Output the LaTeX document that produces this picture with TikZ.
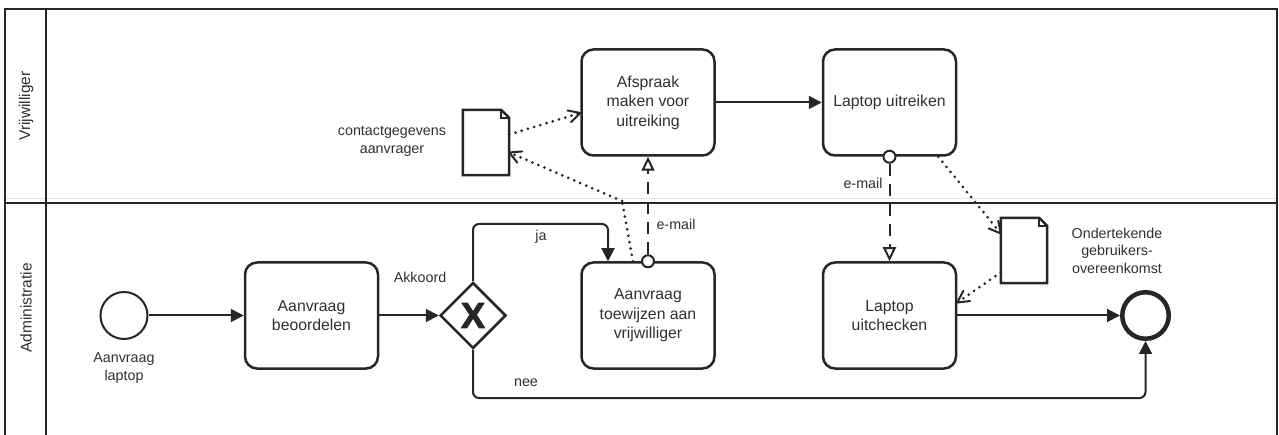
\documentclass[tikz,border=0pt]{standalone}
\usepackage{fontspec}
\setmainfont{Liberation Sans}
\newfontface\gwfont[FakeBold=2.5]{Liberation Sans Bold}
\usetikzlibrary{arrows.meta, shapes.geometric, calc}
\definecolor{ink}{HTML}{262626}
\definecolor{txt}{HTML}{303030}

\begin{document}
\begin{tikzpicture}[x=1pt, y=-1pt,
        lane/.style={draw=ink, line width=1.8pt},
        task/.style={draw=ink, line width=2.5pt, rounded corners=12pt, minimum width=133pt, minimum height=106pt, align=center, text=txt, font=\fontsize{15.8}{19.5}\selectfont},
        lbl/.style={align=center, text=txt, font=\fontsize{14.3}{17.5}\selectfont},
        gateway/.style={draw=ink, line width=2.5pt, diamond, aspect=1, minimum width=66pt, minimum height=66pt, inner sep=0pt, text=ink},
        msg/.style={draw=ink, line width=2pt, fill=white, circle, minimum size=12pt, inner sep=0pt},
        doc/.style={minimum width=46pt, minimum height=65pt, inner sep=0pt},
        docline/.style={draw=ink, line width=2.5pt, line join=miter},
        flow/.style={draw=ink, line width=2pt, -{Triangle[length=13pt, width=13pt]}},
        msgflow/.style={draw=ink, line width=2pt, dash pattern=on 12pt off 8pt, -{Triangle[open, length=14pt, width=13pt]}},
        assoc/.style={draw=ink, line width=3pt, line cap=round, dash pattern=on 0pt off 6.5pt},
        barb/.style={draw=ink, line width=2pt, line cap=round, line join=round}]
        \useasboundingbox (0,0) rectangle (1279,435);
        \draw[gray!20, line width=1pt] (5,199) -- (1277,199);
        \draw[lane] (5,435) -- (5,9) -- (1277,9) -- (1277,435);
        \draw[lane] (46,9) -- (46,435);
        \draw[lane] (5,203) -- (1277,203);
        \node[lbl, rotate=90, font=\fontsize{15.5}{18}\selectfont] (vrijw) at (26,106) {Vrijwilliger};
        \node[lbl, rotate=90, font=\fontsize{15.5}{18}\selectfont] (admin) at (26,308) {Administratie};

        \node[draw=ink, line width=2pt, circle, minimum size=47pt, inner sep=0pt] (start) at (124,315.5) {};
        \node[lbl] (startlbl) at (124,368) {Aanvraag\\laptop};
        \node[task] (beoord) at (311.5,315.5) {Aanvraag\\beoordelen};
        \node[gateway] (gw) at (473,315.5) {\fontsize{36}{36}\selectfont\gwfont X};
        \node[lbl] (akkoord) at (420,277) {Akkoord};
        \node[task] (toew) at (648,315.5) {Aanvraag\\toewijzen aan\\vrijwilliger};
        \node[task] (afspraak) at (648,102.5) {Afspraak\\maken voor\\uitreiking};
        \node[task] (uitreiken) at (889.5,102.5) {Laptop uitreiken};
        \node[task] (uitchecken) at (889.5,315.5) {Laptop\\uitchecken};
        \node[draw=ink, line width=4.5pt, circle, minimum size=46.5pt, inner sep=0pt] (end) at (1145.5,315.5) {};

        \node[doc] (doc1) at (486,142.5) {};
        \node[lbl] (doc1lbl) at (392,141.5) {contactgegevens\\aanvrager};
        \node[doc] (doc2) at (1024,250.5) {};
        \node[lbl] (doc2lbl) at (1117,250.5) {Ondertekende\\gebruikers-\\overeenkomst};
        \foreach \d in {doc1,doc2} {
            \draw[docline] (\d.south west) -- (\d.north west) -- ([xshift=-8pt]\d.north east) -- ([yshift=-8pt]\d.north east) -- (\d.south east) -- cycle;
            \draw[docline, line width=1.5pt] ([xshift=-8pt]\d.north east) -- ([xshift=-8pt, yshift=-8pt]\d.north east) -- ([yshift=-8pt]\d.north east);
        }

        \coordinate (jacorner) at (608,224);
        \coordinate (neecorner) at (1145.5,398);

        \draw[flow] (start) -- (beoord);
        \draw[flow] (beoord) -- (gw);
        \draw[flow, rounded corners=6pt] (gw.north) |- (jacorner) -- (jacorner |- toew.north);
        \draw[flow, rounded corners=6pt] (gw.south) |- (neecorner) -- (end.south);
        \draw[flow] (afspraak) -- (uitreiken);
        \draw[flow] (uitchecken) -- (end);
        \node[lbl] (ja) at (541,237) {ja};
        \node[lbl] (nee) at (526,383) {nee};

        \node[msg] (m1) at (toew.north) {};
        \node[msg] (m2) at (uitreiken.south) {};
        \draw[msgflow] (m1) -- (m1 |- afspraak.south);
        \draw[msgflow] (m2) -- (m2 |- uitchecken.north);
        \node[lbl] (mail1) at (676,224) {e-mail};
        \node[lbl] (mail2) at (863,183) {e-mail};

        \coordinate (a1) at ([xshift=-15pt]toew.north);
        \coordinate (bend1) at (622,201);
        \coordinate (b1) at ([yshift=-10pt]doc1.east);
        \coordinate (a2) at ([yshift=8pt]doc1.east);
        \coordinate (b2) at ([yshift=-10.5pt]afspraak.west);
        \coordinate (a3) at ([xshift=-19pt]uitreiken.south east);
        \coordinate (b3) at ([yshift=17pt]doc2.west);
        \coordinate (a4) at ([yshift=-22pt]doc2.west);
        \coordinate (b4) at ([yshift=13pt]uitchecken.east);
        \draw[assoc] (a1) -- (bend1);
        \foreach \a/\b in {bend1/b1, a2/b2, a3/b3, a4/b4} {
            \draw[assoc] (\a) -- (\b);
            \draw[barb] ($(\b)!13pt!28:(\a)$) -- (\b) -- ($(\b)!13pt!-28:(\a)$);
        }
\end{tikzpicture}
\end{document}
